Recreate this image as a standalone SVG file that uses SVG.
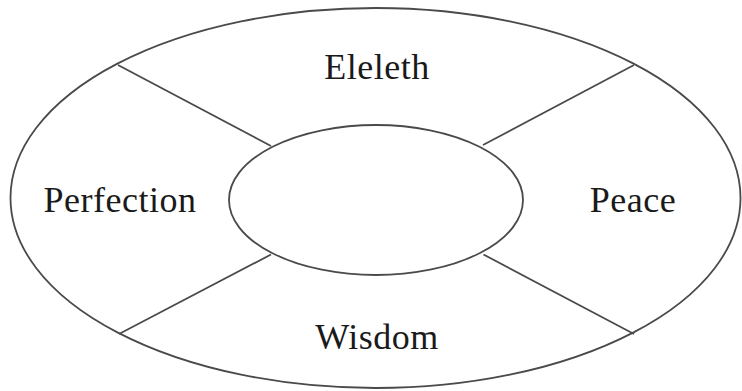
<svg xmlns="http://www.w3.org/2000/svg" width="742" height="391" viewBox="0 0 742 391">
<style>
.s{fill:none;stroke:#4a4a4a;stroke-width:1.8}
.t{font-family:"Liberation Serif","Times New Roman",serif;font-size:36px;fill:#1a1a1a;text-anchor:middle;letter-spacing:0.5px}
</style>
<rect width="742" height="391" fill="#fff"/>
<g id="outer"><ellipse class="s" cx="375.5" cy="198" rx="365" ry="190"/></g>
<g id="inner"><ellipse class="s" cx="376" cy="200" rx="147" ry="75"/></g>
<g id="connectors">
<line class="s" x1="118" y1="65" x2="271" y2="146"/>
<line class="s" x1="634" y1="65" x2="483" y2="145"/>
<line class="s" x1="271" y1="254.5" x2="119" y2="334"/>
<line class="s" x1="483.5" y1="254.5" x2="634" y2="334"/>
</g>
<g id="eleleth"><text class="t" x="377" y="79">Eleleth</text></g>
<g id="perfection"><text class="t" x="120" y="212">Perfection</text></g>
<g id="peace"><text class="t" x="633" y="212">Peace</text></g>
<g id="wisdom"><text class="t" x="377" y="349">Wisdom</text></g>
</svg>
